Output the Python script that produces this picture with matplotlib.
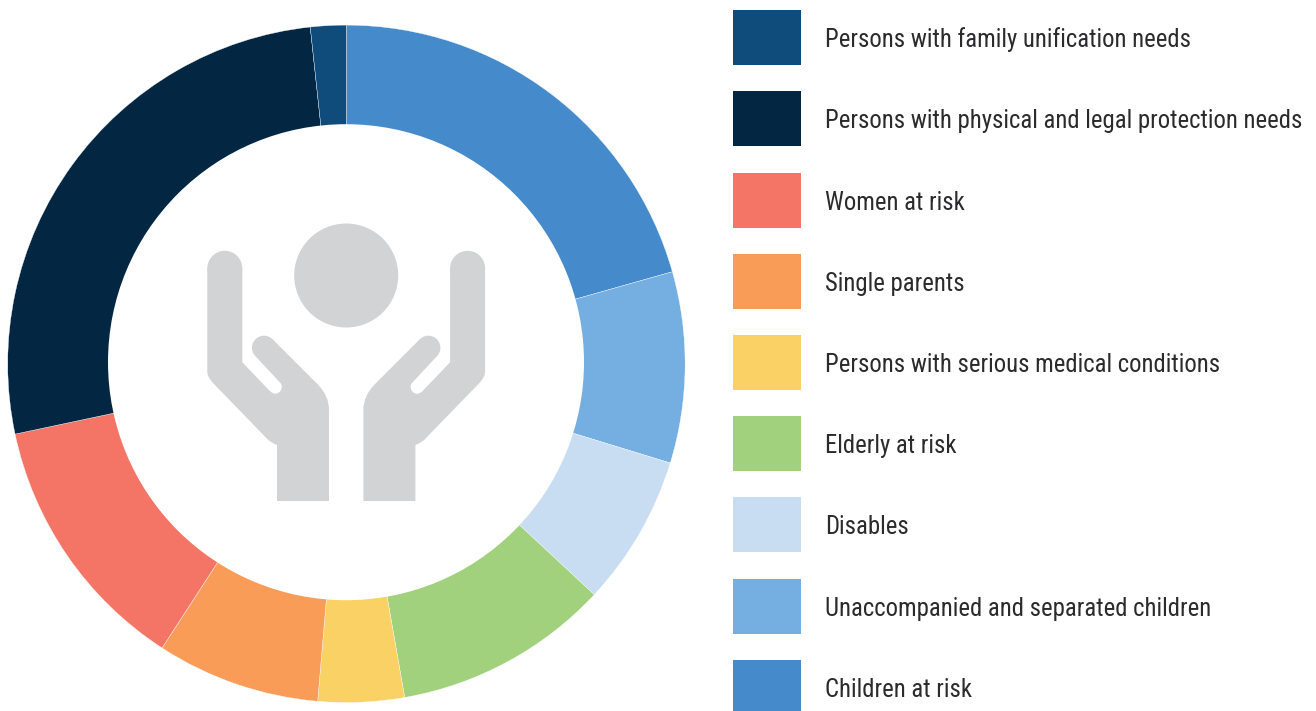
import matplotlib
matplotlib.use('Agg')
import matplotlib.pyplot as plt
from matplotlib.patches import Circle, PathPatch, Rectangle
from matplotlib.path import Path

W, H = 1316, 711

# slices, clockwise from 12 o'clock (percent)
categories = ['Children at risk', 'Unaccompanied and separated children', 'Disables',
              'Elderly at risk', 'Persons with serious medical conditions', 'Single parents',
              'Women at risk', 'Persons with physical and legal protection needs',
              'Persons with family unification needs']
values = [20.6, 9.1, 7.2, 10.3, 4.1, 7.8, 12.5, 26.6, 1.7]
colors = ['#458BCB', '#75AEE0', '#C8DDF2', '#A1D17C', '#FAD165', '#F89C58',
          '#F47565', '#032643', '#0F4C7B']

# legend runs bottom-up compared to the slices
legend_tops = [10, 91, 173, 254, 335, 416, 497, 579, 660]

plt.rcParams['font.family'] = ['Roboto Condensed', 'DejaVu Sans']

fig = plt.figure(figsize=(W / 100, H / 100), dpi=100)
ax = fig.add_axes([0, 0, 1, 1])

cx, cy = 346.4, H - 363.8
ax.pie(values, colors=colors, startangle=90, counterclock=False, radius=338.7, center=(cx, cy),
       wedgeprops={'width': 105, 'linewidth': 0.25, 'edgecolor': '#FFFFFF'}, frame=False)
ax.set_xlim(0, W)
ax.set_ylim(0, H)
ax.set_aspect('equal')
ax.axis('off')

# the hole sits a little above the ring's centre in the source
ax.add_patch(Circle((346, H - 362.2), 238, facecolor='white', edgecolor='none'))

# -----------------------
# legend
# -----------------------
for name, col, top in zip(reversed(categories), reversed(colors), legend_tops):
    ax.add_patch(Rectangle((733, H - top - 55), 68, 55, facecolor=col, edgecolor='none'))
    ax.text(825, H - top - 29.8, name, fontsize=17.8, color='#2B2B2D', va='center', ha='left')

# -----------------------
# centre icon (person + two hands)
# -----------------------
ICON = '#D1D3D4'
AXIS = 346.2  # hands mirror about this x
ax.add_patch(Circle((AXIS, H - 275.5), 52, facecolor=ICON, edgecolor='none'))

L, Q = Path.LINETO, Path.CURVE3
hand_verts = [(207.3, 268.3), (242.3, 268.3), (242.3, 362.3), (270, 391.2),
              (275.5, 396), (279.5, 392), (283.5, 388), (280.7, 383.3),
              (255.5, 356.2), (272.5, 339.2), (318.3, 385),
              (329, 396), (329, 410), (329, 501), (277, 501), (277, 445),
              (272, 443), (268.3, 440), (213.3, 383.3),
              (207.3, 377), (207.3, 371.7), (207.3, 268.3)]
hand_codes = [Path.MOVETO, L, L, L,
              Q, Q, Q, Q,
              L, L, L,
              Q, Q, L, L, L,
              Q, Q, L,
              Q, Q, L]

for side in (-1, 1):
    pts = [(AXIS + side * (AXIS - x), H - y) for x, y in hand_verts]
    ax.add_patch(PathPatch(Path(pts, hand_codes), facecolor=ICON, edgecolor='none'))
    # round finger caps
    ax.add_patch(Circle((AXIS + side * (AXIS - 224.8), H - 268.3), 17.5, facecolor=ICON, edgecolor='none'))
    ax.add_patch(Circle((AXIS + side * (AXIS - 264), H - 347.7), 12, facecolor=ICON, edgecolor='none'))

fig.savefig('out.png', dpi=100, facecolor='white')
plt.close(fig)
